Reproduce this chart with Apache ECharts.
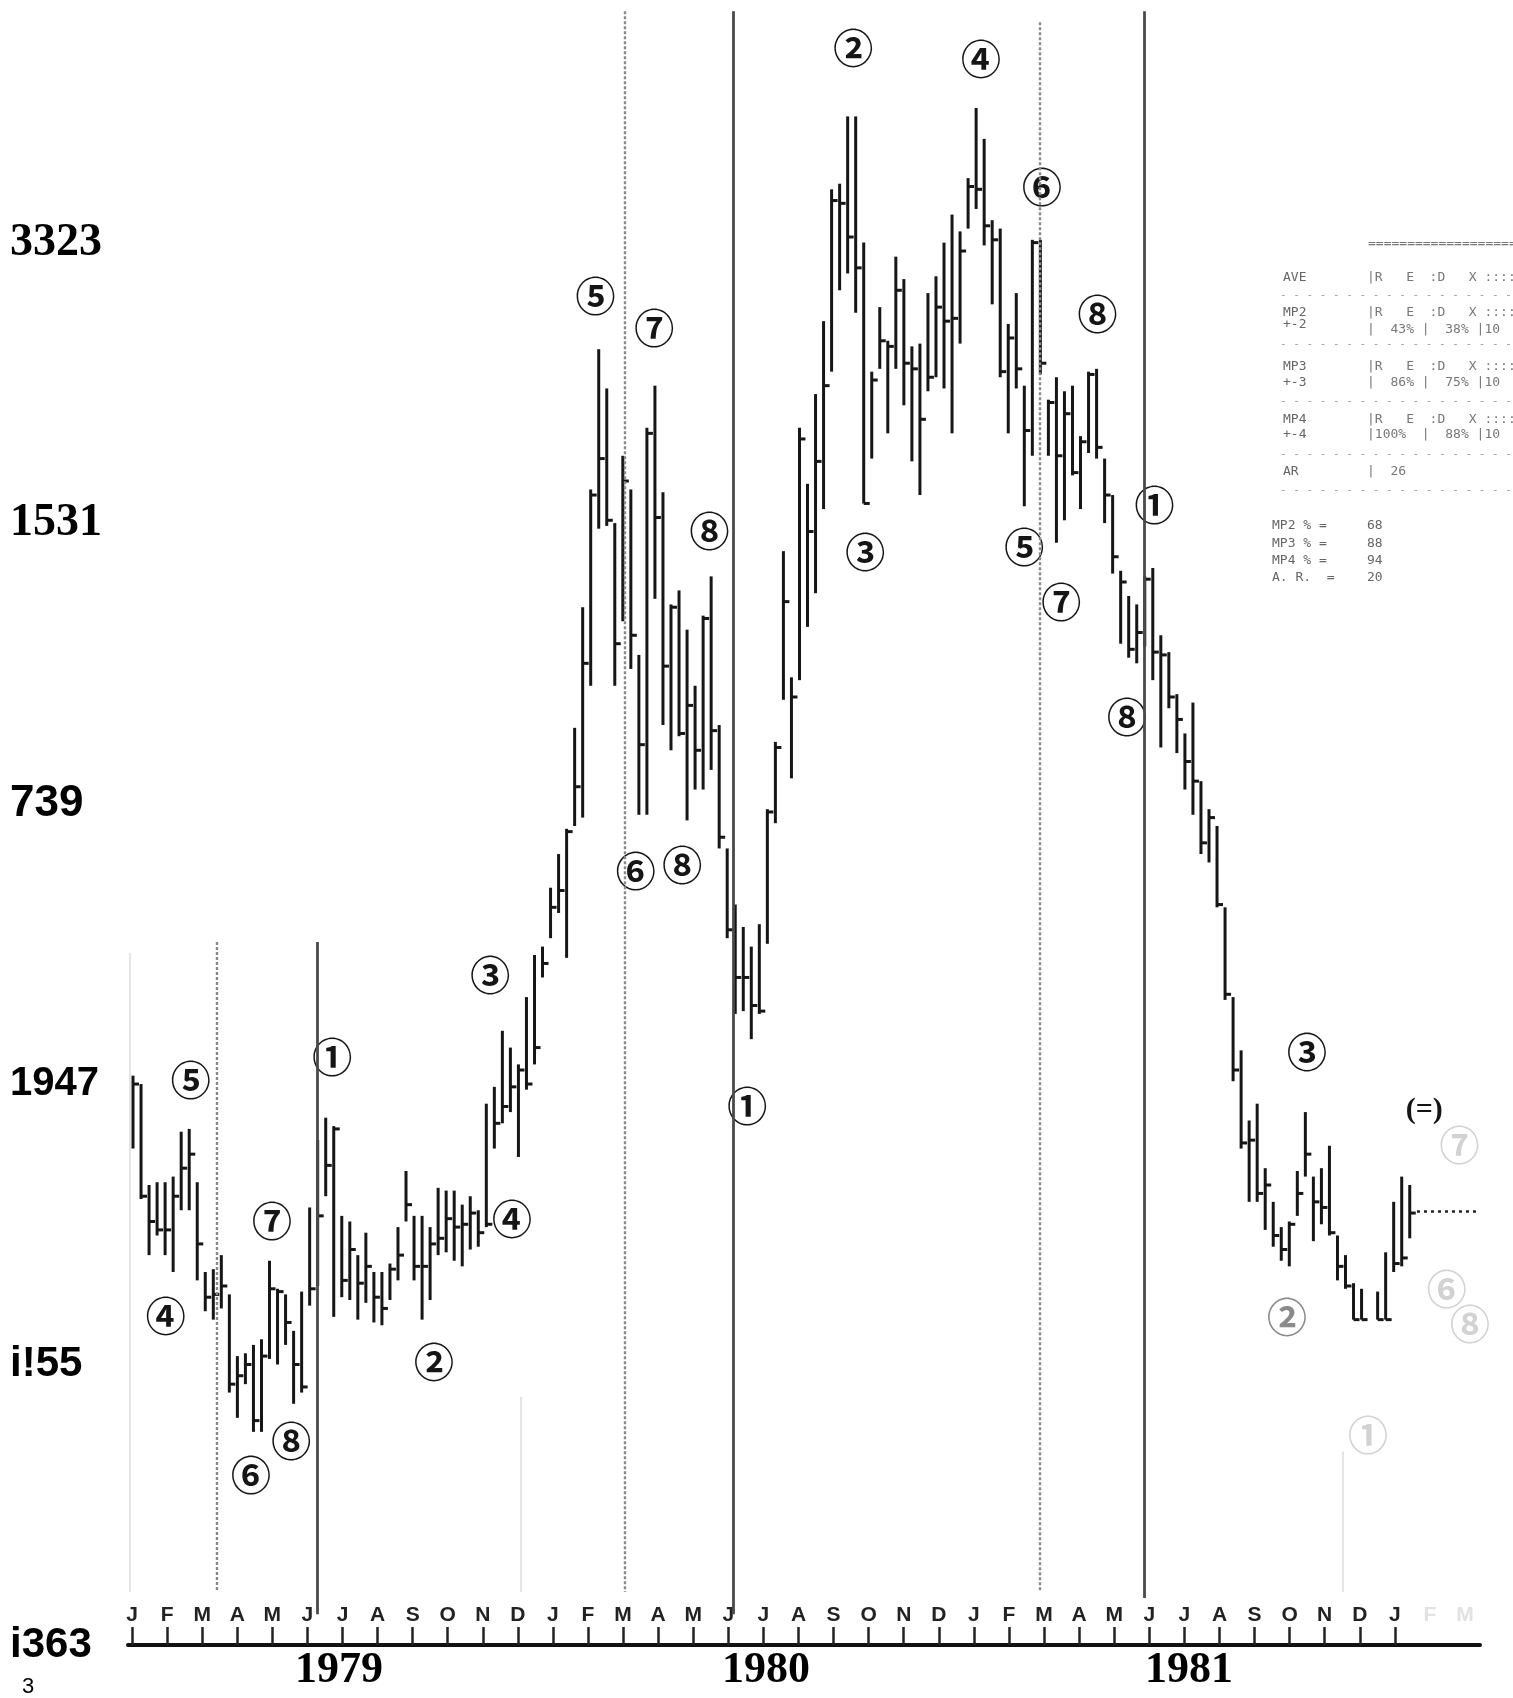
<!DOCTYPE html>
<html><head><meta charset="utf-8">
<script src="https://cdn.jsdelivr.net/npm/echarts@6/dist/echarts.min.js"></script>
<style>html,body{margin:0;padding:0;background:#fff}#c{width:1513px;height:1698px}</style>
</head><body><div id="c"></div><script>
// ---- weekly bars (index = week number from Jan 1979; null = missing week) ----
const highs = [203,200,164,165,165,167,183,184,165,133,
  134,139,125,103,104,107,109,137,127,125,
  112,126,156,180,188,185,153,151,139,147,
  133,133,136,149,169,153,153,149,163,162,
  162,157,160,155,193,199,219,213,207,231,246,
  249,270,282,291,327,370,412,462,448,
  400,424,412,353,434,449,411,371,376,362,
  342,367,381,328,
  284,264,256,249,257,298,322,390,345,434,
  414,446,472,519,521,545,545,500,454,477,465,495,487,463,
  464,482,488,500,510,504,523,548,537,508,505,471,482,449,501,501,444,452,447,449,431,454,455,423,410,383,374,371,
  381,384,360,354,339,325,336,308,298,292,263,231,
  212,187,193,170,158,149,151,169,190,167,170,178,146,139,129,127,
  null,
  126,140,158,167,164];
const lows = [177,159,139,146,139,133,155,155,130,119,
  116,120,90,81,93,76,76,102,100,107,
  86,90,121,128,160,117,124,123,116,122,
  115,114,123,130,151,130,116,123,139,140,
  137,135,141,142,149,177,186,190,174,198,207,
  238,252,261,245,292,295,342,398,399,
  342,365,348,296,296,373,328,319,324,294,
  305,305,312,284,
  252,225,226,216,225,250,293,337,309,344,
  363,375,405,454,483,489,475,407,423,455,432,455,442,422,
  410,447,452,448,432,464,505,512,499,478,452,432,448,406,424,453,424,393,401,417,405,425,423,400,382,357,352,350,
  356,344,320,334,318,305,296,282,279,263,230,201,
  177,158,158,148,142,137,135,153,167,144,150,146,130,127,116,116,
  null,
  116,116,133,135,145];
const closes = [200,160,151,148,148,160,170,175,143,124,
  125,128,93,96,100,80,103,127,126,115,
  100,92,127,153,171,184,130,141,129,135,
  124,120,134,139,157,135,135,143,145,152,
  149,150,154,147,150,186,192,199,205,200,213,
  243,263,269,290,306,350,410,423,401,
  357,415,360,321,432,402,349,370,325,335,
  319,366,326,288,
  255,238,238,228,226,297,320,372,338,430,
  397,422,449,515,514,502,491,407,451,465,463,483,457,455,
  437,452,477,472,473,497,520,519,506,501,454,466,455,433,500,457,443,424,439,418,429,453,427,410,388,379,355,361,
  380,354,353,338,330,315,308,286,295,264,232,205,
  179,180,161,164,146,141,150,161,175,158,156,147,135,128,116,116,
  null,
  116,116,136,138,154];

// ---- axis labels ----
const yTickValues = [0,100,200,300,400,500];
const yTickLabels = ['i363','i!55','1947','739','1531','3323'];
const monthLetters = ['J','F','M','A','M','J','J','A','S','O','N','D',
  'J','F','M','A','M','J','J','A','S','O','N','D',
  'J','F','M','A','M','J','J','A','S','O','N','D','J','F','M'];
const monthTickCount = 37;
const yearLabels = ['1979','1980','1981'];
const yearMonthPos = [5.9, 18.07, 30.13];

// ---- cycle markers (week index, top value, bottom value) ----
const markerWeek   = [-0.4, 10.4, 22.95, 48.3, 61.3, 74.7, 112.9, 125.9, 150.7];
const markerTop    = [246.7, 250.6, 250.6, 88.4, 582.5, 582.5, 578.6, 582.5, 69];
const markerBottom = [18.9, 18.9, 11, 18.9, 18.9, 11, 18.9, 16.8, 18.9];
const markerKind   = ['faint','gray','dark','faint','gray','dark','gray','dark','faint'];

// projection dotted line
const projWeek = [159.9, 167.4];
const projValue = 154.5;

// ---- circled count annotations (week index, value, text, kind) ----
const annWeek  = [7.2, 4.07, 17.3, 19.7, 14.7, 24.8, 37.5, 44.5, 47.2,
  57.6, 64.9, 71.8, 62.6, 68.4, 76.5, 89.7, 91.2, 105.6, 113.2, 120.1, 111, 115.6, 127.2, 123.8, 146.2, 143.7, 160.8,
  165.2, 163.6, 166.5, 153.8];
const annValue = [201.5, 117.4, 151.3, 72.9, 60.6, 209.6, 101.1, 239, 152.1,
  481, 469.8, 397.3, 276, 278, 192.3, 569.5, 389.9, 565.6, 520, 474.5, 391.5, 371.8, 406.5, 330.8, 211.5, 117, 190.7,
  178.3, 127, 114.6, 75];
const annText  = ['⑤','④','⑦','⑧','⑥','①','②','③','④',
  '⑤','⑦','⑧','⑥','⑧','①','②','③','④','⑥','⑧','⑤','⑦','①','⑧','③','②','(=)',
  '⑦','⑥','⑧','①'];
const annKind  = ['n','n','n','n','n','n','n','n','n',
  'n','n','n','n','n','n','n','n','n','n','n','n','n','n','n','n','half','n',
  'ghost','ghost','ghost','ghost'];

// ---- side table text ----
const tableLeft  = ['AVE','MP2','+-2','MP3','+-3','MP4','+-4','AR'];
const tableLeftY = [278, 313, 325, 367, 383, 420, 435, 472];
const tableRight = ['|R   E  :D   X ::::','|R   E  :D   X ::::','|  43% |  38% |10','|R   E  :D   X ::::','|  86% |  75% |10','|R   E  :D   X ::::','|100%  |  88% |10','|  26'];
const tableRightY= [278, 313, 330, 367, 383, 420, 435, 472];
const tableRules = [295, 344, 401, 454, 490];
const statLabels = ['MP2 % =','MP3 % =','MP4 % =','A. R.  ='];
const statValues = ['68','88','94','20'];
const statY = [526, 544, 561, 578];

// ---------- build ----------
const barData = [];
highs.forEach((h, i) => { if (h !== null) barData.push([i, h, lows[i], closes[i]]); });

const markerStyles = {
  faint: {color:'#dcdcdc', width:1.5, type:'solid'},
  gray:  {color:'#8a8a8a', width:2.4, type:[3,2]},
  dark:  {color:'#4a4a4a', width:2.8, type:'solid'}
};
const markLines = markerWeek.map((w, i) => [
  {coord:[w, markerTop[i]], lineStyle: markerStyles[markerKind[i]]},
  {coord:[w, markerBottom[i]]}
]);
markLines.push([{coord:[projWeek[0], projValue], lineStyle:{color:'#222', width:2.5, type:[3,4]}}, {coord:[projWeek[1], projValue]}]);

const annData = annWeek.map((w, i) => [w, annValue[i], i]);
const annColor = {n:'#151515', half:'#8a8a8a', ghost:'#d2d2d2'};

const BL = -0.6227, BR = 167.75, ML = -0.114, MR = 38.427;
const monthLabelVals = monthLetters.map((_, i) => i);
const monthTickVals = []; for (let i = 0; i < monthTickCount; i++) monthTickVals.push(i);

const yRich = {
  s0:{fontFamily:'Liberation Sans', fontWeight:'bold', fontSize:42, color:'#000'},
  s1:{fontFamily:'Liberation Sans', fontWeight:'bold', fontSize:42, color:'#000'},
  s2:{fontFamily:'Liberation Sans', fontWeight:'bold', fontSize:40, color:'#000'},
  s3:{fontFamily:'Liberation Sans', fontWeight:'bold', fontSize:44, color:'#000'},
  s4:{fontFamily:'Liberation Serif', fontWeight:'bold', fontSize:46, color:'#000'},
  s5:{fontFamily:'Liberation Serif', fontWeight:'bold', fontSize:46, color:'#000'}
};

const graphics = [];
graphics.push({type:'text', left:22, top:1676, style:{text:'3', font:'22px "Liberation Sans"', fill:'#000'}});
tableLeft.forEach((t, i) => graphics.push({type:'text', x:1283, y:tableLeftY[i], style:{text:t, font:'13px "DejaVu Sans Mono"', fill:'#666', verticalAlign:'middle'}}));
tableRight.forEach((t, i) => graphics.push({type:'text', x:1367, y:tableRightY[i], style:{text:t, font:'13px "DejaVu Sans Mono"', fill:'#777', verticalAlign:'middle'}}));
graphics.push({type:'text', x:1368, y:244, style:{text:'=====================', font:'13px "DejaVu Sans Mono"', fill:'#777', verticalAlign:'middle'}});
tableRules.forEach(y => graphics.push({type:'text', x:1280, y:y, style:{text:'- - - - - - - - - - - - - - - - - -', font:'11px "DejaVu Sans Mono"', fill:'#999', verticalAlign:'middle'}}));
statLabels.forEach((t, i) => {
  graphics.push({type:'text', x:1272, y:statY[i], style:{text:t, font:'13px "DejaVu Sans Mono"', fill:'#666', verticalAlign:'middle'}});
  graphics.push({type:'text', x:1367, y:statY[i], style:{text:statValues[i], font:'13px "DejaVu Sans Mono"', fill:'#666', verticalAlign:'middle'}});
});

const chart = echarts.init(document.getElementById('c'), null, {renderer:'canvas'});
chart.setOption({
  backgroundColor:'#fff',
  animation:false,
  grid:{left:128, right:33, top:0, bottom:53, containLabel:false},
  xAxis:[
    {type:'value', min:BL, max:BR, show:false},
    {type:'value', min:ML, max:MR, position:'bottom',
      axisLine:{show:true, onZero:false, lineStyle:{color:'#111', width:4}},
      axisTick:{show:true, inside:true, length:18, customValues:monthTickVals, lineStyle:{color:'#222', width:2.5}},
      axisLabel:{show:true, inside:true, margin:19, customValues:monthLabelVals,
        formatter:v => (v >= monthTickCount ? '{g|' : '{m|') + monthLetters[Math.round(v)] + '}',
        rich:{m:{fontFamily:'Liberation Sans', fontWeight:'bold', fontSize:21, color:'#222'},
              g:{fontFamily:'Liberation Sans', fontWeight:'bold', fontSize:21, color:'#e2e2e2'}}},
      splitLine:{show:false}},
    {type:'value', min:ML, max:MR, position:'bottom',
      axisLine:{show:false}, axisTick:{show:false}, splitLine:{show:false},
      axisLabel:{show:true, margin:4, customValues:yearMonthPos,
        formatter:v => yearLabels[yearMonthPos.indexOf(v)],
        fontFamily:'Liberation Serif', fontWeight:'bold', fontSize:44, color:'#000'}}
  ],
  yAxis:[{type:'value', min:0, max:586.5,
    axisLine:{show:false}, axisTick:{show:false}, splitLine:{show:false},
    axisLabel:{show:true, align:'left', margin:118, customValues:yTickValues,
      formatter:v => '{s' + yTickValues.indexOf(v) + '|' + yTickLabels[yTickValues.indexOf(v)] + '}',
      rich:yRich}}],
  graphic:graphics,
  series:[
    {type:'custom', name:'weekly', xAxisIndex:0, yAxisIndex:0, clip:false,
      data:barData, encode:{x:0, y:[1,2,3]},
      renderItem:function(params, api){
        const x = api.value(0);
        const pH = api.coord([x, api.value(1)]);
        const pL = api.coord([x, api.value(2)]);
        const pC = api.coord([x, api.value(3)]);
        return {type:'group', children:[
          {type:'line', shape:{x1:pH[0], y1:pH[1], x2:pL[0], y2:pL[1]}, style:{stroke:'#161616', lineWidth:3}},
          {type:'line', shape:{x1:pC[0], y1:pC[1], x2:pC[0]+6, y2:pC[1]}, style:{stroke:'#161616', lineWidth:3}}
        ]};
      },
      markLine:{silent:true, symbol:['none','none'], label:{show:false}, data:markLines}
    },
    {type:'custom', name:'counts', xAxisIndex:0, yAxisIndex:0, clip:false, silent:true,
      data:annData, encode:{x:0, y:1},
      renderItem:function(params, api){
        const k = api.value(2);
        const p = api.coord([api.value(0), api.value(1)]);
        const t = annText[k];
        return {type:'text', x:p[0], y:p[1], style:{
          text:t, align:'center', verticalAlign:'middle',
          font:(t.length > 1 ? 'bold 30px "Liberation Serif"' : 'bold 40px "Noto Sans CJK JP"'),
          fill:annColor[annKind[k]]}};
      }}
  ]
});
</script></body></html>
